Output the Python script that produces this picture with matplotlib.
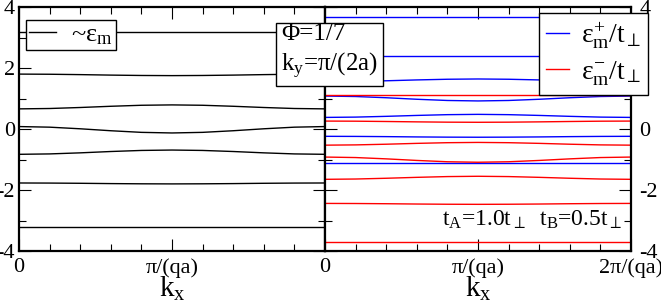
import matplotlib.pyplot as plt
from matplotlib.lines import Line2D
from matplotlib.ticker import MultipleLocator, FixedLocator

plt.rcParams['font.family'] = ['Liberation Serif', 'DejaVu Serif']
plt.rcParams['mathtext.fontset'] = 'custom'
plt.rcParams['mathtext.rm'] = 'Liberation Serif'
plt.rcParams['mathtext.it'] = 'Liberation Serif'
plt.rcParams['mathtext.bf'] = 'Liberation Serif:bold'
plt.rcParams['axes.unicode_minus'] = False

# kx in units of pi/(qa)
kx = [0.0, 0.2, 0.4, 0.6, 0.8, 1.0, 1.2, 1.4, 1.6, 1.8, 2.0]

# left panel: ~eps_m
eps_m = [
    [3.18] * 11,
    [1.80, 1.795, 1.783, 1.767, 1.755, 1.75, 1.755, 1.767, 1.783, 1.795, 1.80],
    [0.66, 0.672, 0.705, 0.745, 0.778, 0.79, 0.778, 0.745, 0.705, 0.672, 0.66],
    [0.08, 0.060, 0.007, -0.057, -0.110, -0.13, -0.110, -0.057, 0.007, 0.060, 0.08],
    [-0.83, -0.817, -0.782, -0.738, -0.703, -0.69, -0.703, -0.738, -0.782, -0.817, -0.83],
    [-1.77, -1.773, -1.780, -1.790, -1.797, -1.80, -1.797, -1.790, -1.780, -1.773, -1.77],
    [-3.22] * 11,
]

# right panel: eps+_m / t_perp (blue)
eps_plus = [
    [3.66] * 11,
    [2.40] * 11,
    [1.55, 1.559, 1.581, 1.609, 1.631, 1.64, 1.631, 1.609, 1.581, 1.559, 1.55],
    [1.08, 1.065, 1.025, 0.975, 0.935, 0.92, 0.935, 0.975, 1.025, 1.065, 1.08],
    [0.38, 0.39, 0.415, 0.445, 0.47, 0.48, 0.47, 0.445, 0.415, 0.39, 0.38],
    [-0.24, -0.243, -0.250, -0.260, -0.267, -0.27, -0.267, -0.260, -0.250, -0.243, -0.24],
    [-1.12] * 11,
]

# right panel: eps-_m / t_perp (red)
eps_minus = [
    [1.10] * 11,
    [0.26, 0.256, 0.246, 0.234, 0.224, 0.22, 0.224, 0.234, 0.246, 0.256, 0.26],
    [-0.53, -0.521, -0.499, -0.471, -0.449, -0.44, -0.449, -0.471, -0.499, -0.521, -0.53],
    [-0.92, -0.936, -0.979, -1.031, -1.074, -1.09, -1.074, -1.031, -0.979, -0.936, -0.92],
    [-1.65, -1.64, -1.615, -1.585, -1.56, -1.55, -1.56, -1.585, -1.615, -1.64, -1.65],
    [-2.44, -2.443, -2.450, -2.460, -2.467, -2.47, -2.467, -2.460, -2.450, -2.443, -2.44],
    [-3.71] * 11,
]

W, H = 661, 305
fig = plt.figure(figsize=(W / 100, H / 100), dpi=100)
axL = fig.add_axes([19 / W, 54 / H, 306 / W, 244 / H])
axR = fig.add_axes([325 / W, 54 / H, 306 / W, 244 / H])

for ax in (axL, axR):
    ax.set_xlim(0, 2)
    ax.set_ylim(-4, 4)
    ax.set_xticks([0, 1, 2])
    ax.xaxis.set_minor_locator(MultipleLocator(0.2))
    ax.set_yticks([-4, -2, 0, 2, 4])
    ax.yaxis.set_minor_locator(FixedLocator([-3, -1, 1, 3]))
    ax.tick_params(which='both', direction='in', top=True, right=True,
                   width=0.8, labelsize=16, pad=5)
    ax.tick_params(which='major', length=8.5)
    ax.tick_params(which='minor', length=5)
    for s in ax.spines.values():
        s.set_linewidth(1.6)
    ax.set_xlabel('k$_x$', fontsize=21, labelpad=-2)

axL.set_xticklabels(['0', 'π/(qa)', ''])
axR.set_xticklabels(['0', 'π/(qa)', '2π/(qa)'])
axL.tick_params(axis='y', pad=3)
axR.tick_params(axis='y', labelleft=False, labelright=True, pad=6)

for band in eps_m:
    axL.plot(kx, band, color='black', lw=1)
for band in eps_plus:
    axR.plot(kx, band, color='blue', lw=1)
for band in eps_minus:
    axR.plot(kx, band, color='red', lw=1)

legL = axL.legend([Line2D([], [], color='black', lw=1)], ['~ε$_m$'],
                  loc='upper left', bbox_to_anchor=(0.023, 0.948),
                  borderaxespad=0, fontsize=19, fancybox=False, framealpha=1,
                  edgecolor='black', handlelength=1.0, handletextpad=0.6,
                  borderpad=0.12)
legL.get_frame().set_linewidth(1)

legR = axR.legend([Line2D([], [], color='blue', lw=1), Line2D([], [], color='red', lw=1)],
                  [r'$\varepsilon^{+}_{m}/t_{\perp}$', r'$\varepsilon^{-}_{m}/t_{\perp}$'],
                  loc='upper left', bbox_to_anchor=(0.699, 0.975),
                  borderaxespad=0, fontsize=20, fancybox=False, framealpha=1,
                  edgecolor='black', handlelength=0.85, handletextpad=0.4,
                  borderpad=0.25, labelspacing=0.3)
legR.get_frame().set_linewidth(1)
legR.set_clip_on(False)

fig.text(281 / W, 1 - 52 / H, 'Φ=1/7\nk$_y$=π/(2a)', fontsize=18,
         ha='left', va='center', linespacing=1.25, zorder=10,
         bbox=dict(boxstyle='square,pad=0.2', fc='white', ec='black', lw=1))

axR.text(0.97, 0.102, r'$t_A$=1.0$t_\perp$  $t_B$=0.5$t_\perp$', fontsize=17,
         ha='right', va='baseline', transform=axR.transAxes)

fig.savefig('out.png', dpi=100)
